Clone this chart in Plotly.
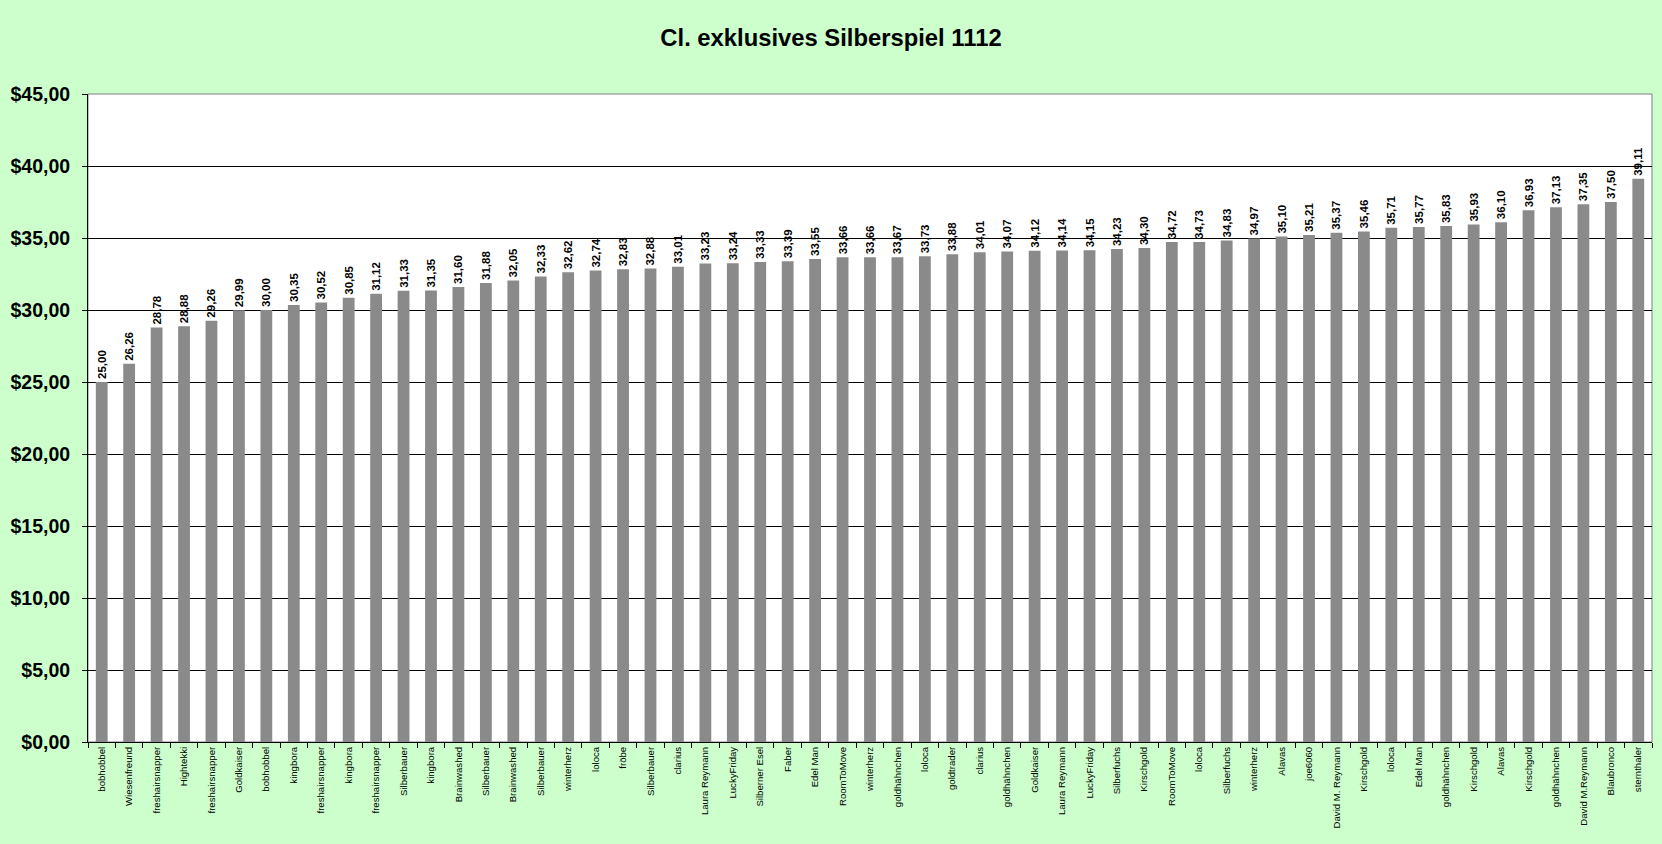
import plotly.graph_objects as go

title_text = "Cl. exklusives Silberspiel 1112"

names = [
    "bobhobbel", "Wiesenfreund", "freshairsnapper", "Hightekki", "freshairsnapper",
    "Goldkaiser", "bobhobbel", "kingbora", "freshairsnapper", "kingbora",
    "freshairsnapper", "Silberbauer", "kingbora", "Brainwashed", "Silberbauer",
    "Brainwashed", "Silberbauer", "winterherz", "loloca", "fröbe",
    "Silberbauer", "clarius", "Laura Reymann", "LuckyFriday", "Silberner Esel",
    "Faber", "Edel Man", "RoomToMove", "winterherz", "goldhähnchen",
    "loloca", "goldtrader", "clarius", "goldhähnchen", "Goldkaiser",
    "Laura Reymann", "LuckyFriday", "Silberfuchs", "Kirschgold", "RoomToMove",
    "loloca", "Silberfuchs", "winterherz", "Alavas", "joe6060",
    "David M. Reymann", "Kirschgold", "loloca", "Edel Man", "goldhähnchen",
    "Kirschgold", "Alavas", "Kirschgold", "goldhähnchen", "David M.Reymann",
    "Blaubronco", "sternthaler",
]

values = [
    25.00, 26.26, 28.78, 28.88, 29.26, 29.99, 30.00, 30.35, 30.52, 30.85,
    31.12, 31.33, 31.35, 31.60, 31.88, 32.05, 32.33, 32.62, 32.74, 32.83,
    32.88, 33.01, 33.23, 33.24, 33.33, 33.39, 33.55, 33.66, 33.66, 33.67,
    33.73, 33.88, 34.01, 34.07, 34.12, 34.14, 34.15, 34.23, 34.30, 34.72,
    34.73, 34.83, 34.97, 35.10, 35.21, 35.37, 35.46, 35.71, 35.77, 35.83,
    35.93, 36.10, 36.93, 37.13, 37.35, 37.50, 39.11,
]

# unique category keys so duplicate names get their own bar
keys = [f"{i}" for i in range(len(names))]

FONT = "Arial, Liberation Sans, sans-serif"

fig = go.Figure()
fig.add_trace(go.Bar(
    x=keys,
    y=values,
    marker=dict(color="#8a8a8a", line=dict(width=0)),
    text=values,
    texttemplate="%{y:.2f}",
    textposition="outside",
    textangle=-90,
    constraintext="none",
    cliponaxis=False,
    textfont=dict(family=FONT, size=11.5, color="black", weight="bold"),
    hoverinfo="x+y",
))

fig.update_layout(
    width=1662,
    height=844,
    separators=",.",
    paper_bgcolor="#CCFFCC",
    plot_bgcolor="white",
    margin=dict(l=88, r=10, t=94, b=102, pad=0),
    bargap=0.57,
    showlegend=False,
    title=dict(
        text=title_text,
        x=0.5, xref="container", xanchor="center",
        y=1 - 38 / 844, yref="container", yanchor="middle",
        font=dict(family=FONT, size=23.8, color="black", weight="bold"),
    ),
    xaxis=dict(
        type="category",
        tickmode="array",
        tickvals=keys,
        ticktext=names,
        tickangle=-90,
        tickfont=dict(family=FONT, size=9.6, color="black"),
        tickson="boundaries",
        ticks="outside",
        ticklen=5,
        tickcolor="black",
        showline=True,
        linecolor="black",
        linewidth=1,
        showgrid=False,
        zeroline=False,
        automargin=False,
    ),
    yaxis=dict(
        range=[0, 45],
        dtick=5,
        tick0=0,
        tickprefix="$",
        tickformat=".2f",
        tickfont=dict(family=FONT, size=19.5, color="black", weight="bold"),
        ticks="outside",
        ticklen=5,
        tickcolor="black",
        ticklabelstandoff=8,
        showline=True,
        linecolor="black",
        linewidth=1,
        showgrid=True,
        gridcolor="black",
        gridwidth=1,
        zeroline=False,
        automargin=False,
    ),
    shapes=[dict(
        type="rect", xref="paper", yref="paper", x0=0, x1=1, y0=0, y1=1,
        line=dict(color="#808080", width=1), layer="below",
    )],
)

fig.write_html(
    "out.html",
    config={"displayModeBar": False},
    post_script="document.body.style.margin='0';document.body.style.overflow='hidden';",
)
